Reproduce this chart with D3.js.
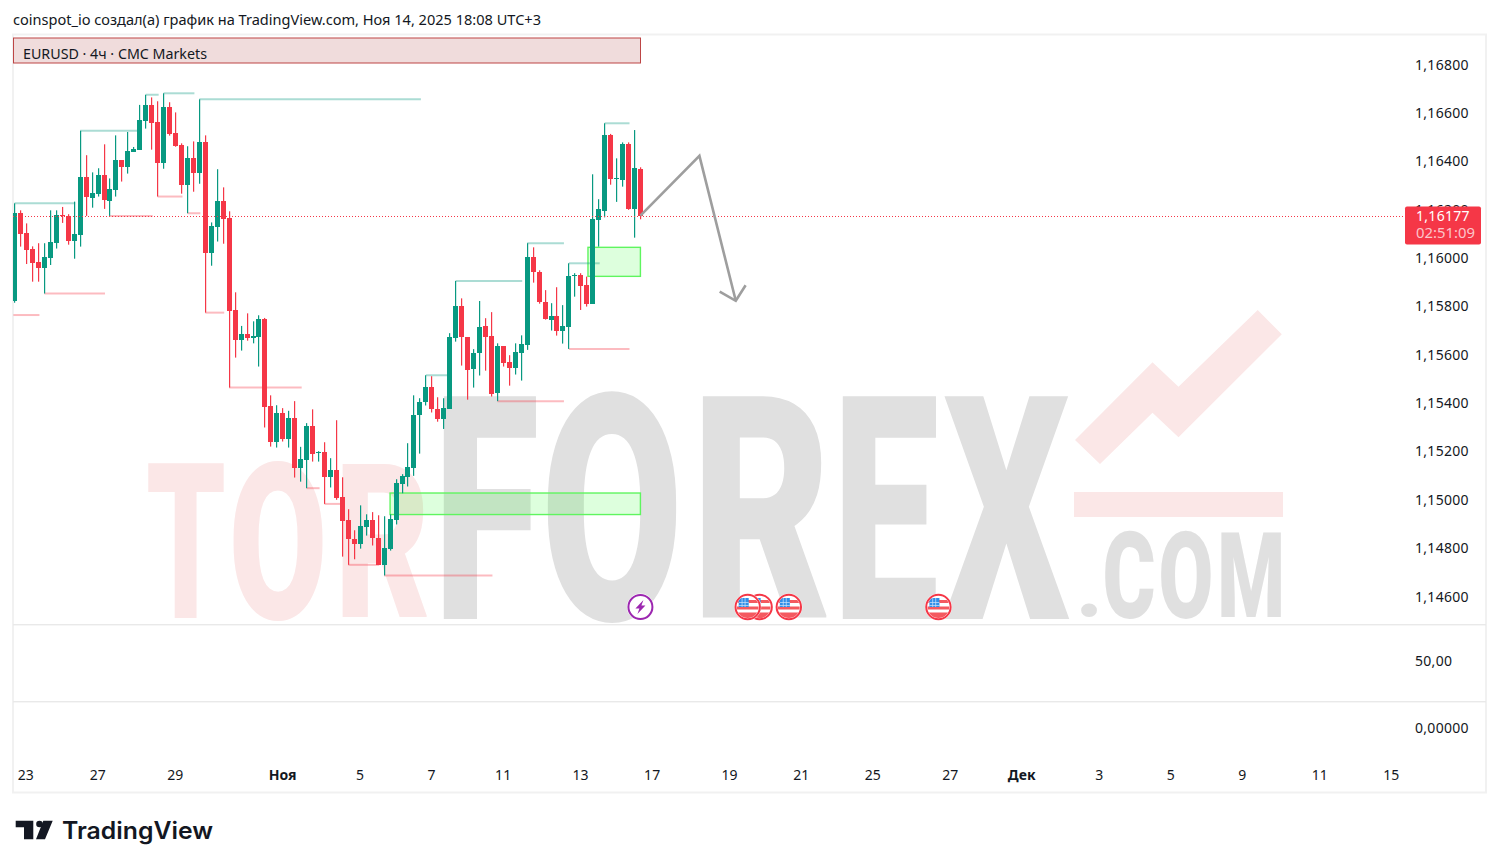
<!DOCTYPE html>
<html><head><meta charset="utf-8">
<style>html,body{margin:0;padding:0;background:#fff}svg{display:block}text{font-family:"Noto Sans",sans-serif}</style>
<script src="https://cdn.jsdelivr.net/npm/d3@7"></script></head>
<body><svg id="c" width="1499" height="868"></svg>
<script>
// All prices in points (1/100000)
const opens=[115826,116187,116104,116038,115985,115962,116003,116065,116180,116174,116074,116098,116336,116251,116268,116344,116239,116285,116406,116380,116442,116450,116570,116633,116563,116396,116625,116517,116468,116305,116414,116355,116480,116024,116132,116236,116166,115786,115664,115687,115673,115677,115749,115390,115239,115360,115255,115339,115135,115168,115306,115197,115199,115098,115124,115013,114917,114839,114821,114891,114917,114843,114734,114800,114920,115069,115098,115135,115352,115405,115467,115376,115338,115379,115673,115802,115674,115543,115607,115720,115678,115445,115637,115571,115545,115611,115644,116005,115943,115819,115747,115761,115702,115718,115929,115930,115889,115813,116161,116198,116509,116329,116326,116472,116205,116369];
const closes=[116187,116103,116036,115983,115962,116005,116067,116178,116174,116074,116100,116336,116253,116269,116344,116240,116286,116406,116378,116443,116451,116571,116633,116562,116396,116625,116516,116466,116305,116414,116355,116480,116024,116133,116236,116165,115784,115664,115687,115673,115680,115750,115387,115239,115360,115255,115339,115135,115170,115306,115193,115199,115098,115124,115011,114916,114838,114821,114893,114917,114842,114734,114802,114922,115070,115101,115137,115352,115405,115467,115376,115338,115381,115674,115802,115674,115540,115608,115716,115677,115441,115637,115569,115545,115612,115645,116005,115946,115818,115751,115761,115702,115720,115926,115932,115888,115813,116162,116203,116509,116330,116331,116472,116205,116373,116177];
const highs=[116228,116199,116145,116050,116063,116063,116199,116199,116213,116183,116235,116528,116427,116356,116373,116472,116331,116509,116406,116523,116461,116635,116677,116666,116650,116683,116646,116604,116476,116464,116484,116658,116509,116149,116369,116294,116195,115860,115721,115773,115740,115765,115754,115434,115393,115381,115370,115410,115221,115319,115376,115203,115240,115174,115331,115095,114963,114876,114979,114942,114951,114938,114934,114942,115087,115108,115236,115434,115422,115517,115513,115426,115422,115691,115907,115835,115674,115625,115824,115753,115778,115649,115637,115600,115649,115682,116063,116046,115951,115869,115815,115881,115807,115980,115939,115939,115925,116348,116245,116559,116515,116414,116480,116480,116531,116377];
const lows=[115817,116049,115977,115904,115904,115855,115973,116041,116147,116057,115999,116049,116176,116210,116256,116205,116176,116256,116318,116351,116442,116450,116537,116450,116256,116371,116508,116462,116268,116187,116276,116309,115776,115970,116070,116061,115466,115590,115619,115660,115649,115553,115301,115222,115218,115243,115218,115094,115077,115050,115160,115160,114985,115053,115002,114767,114733,114756,114800,114854,114813,114734,114689,114792,114900,115029,115057,115101,115193,115392,115363,115325,115295,115379,115656,115557,115416,115466,115516,115536,115429,115410,115553,115474,115520,115495,115622,115900,115813,115747,115702,115681,115648,115626,115842,115787,115801,115813,116049,116170,116305,116234,116297,116201,116086,116162];

const highLevelFrom=[0,11,22,25,31,69,74,86,93,99];
const highLevelTo=[10,21,24,30,68,73,85,92,98,103];
const highLevelPrice=[116228,116528,116677,116683,116658,115517,115907,116063,115980,116559];
const lowLevelFrom=[-0.2,5,16,24,29,32,36,49,52,56,62,81,93];
const lowLevelTo=[4,15,23,28,31,35,48,51,55,61,80,92,103];
const lowLevelPrice=[115766,115855,116176,116256,116187,115776,115466,115050,114985,114733,114689,115410,115626];

const zoneFrom=[63,96.2];
const zoneTo=[105,105];
const zoneTop=[115030,116046];
const zoneBottom=[114941,115926];

const arrowIndex=[105,114.9,121];
const arrowPrice=[116177,116424,115825];
const arrowHeadIndex=[118.3,121,122.65];
const arrowHeadPrice=[115863,115825,115889];

const lastPrice=116177;
const countdown="02:51:09";
const priceTicks=[114600,114800,115000,115200,115400,115600,115800,116000,116200,116400,116600,116800];
const lowerTicks=[0,50];
const timeTickIndex=[1.9,14,27,45,58,70,82,95,107,120,132,144,157,169,182,194,206,219,231];
const timeTickLabel=["23","27","29","Ноя","5","7","11","13","17","19","21","25","27","Дек","3","5","9","11","15"];
const flagEventIndex=[125,123,129.9,155];
const boltEventIndex=[105];
const flagRedBands=[[-7,3],[-0.5,3],[5.5,6]];
const flagCantonLines=[-6,-3];

const title="coinspot_io создал(а) график на TradingView.com, Ноя 14, 2025 18:08 UTC+3";
const legend="EURUSD · 4ч · CMC Markets";

const RED="#f53747",TEAL="#089981",TXT="#131722";
const svg=d3.select("#c");
const x=d3.scaleLinear().domain([0,231]).range([14.6,1391.4]);
const y=d3.scaleLinear().domain([114600,116800]).range([597,65]);
const yLow=d3.scaleLinear().domain([0,50]).range([728,661]);

// watermark (behind everything)
const wm=svg.append("g").attr("class","watermark");
const PINK="#fbe7e7",GREY="#e0e0e0";
const wmLetters=[["T",148,224,463,618,PINK],["O",233,323,460,621,PINK],["R",342,427,463,618,PINK],
 ["F",443,536,395,619,GREY],["O",547,677,390,623,GREY],["R",702,827,395,619,GREY],["E",842,936,395,619,GREY],["X",943,1070,395,619,GREY],
 [".",1081,1097,603,617,GREY],["C",1105,1154,530,619,GREY],["O",1161,1211,530,619,GREY],["M",1221,1281,532,617,GREY]];
const ctx=document.createElement("canvas").getContext("2d");
const wmFont='900 200px Roboto';
ctx.font=wmFont;
wmLetters.forEach(([ch,x0,x1,y0,y1,col])=>{
  const m=ctx.measureText(ch);
  const w=m.actualBoundingBoxLeft+m.actualBoundingBoxRight,h=m.actualBoundingBoxAscent+m.actualBoundingBoxDescent;
  const sx=(x1-x0)/w,sy=(y1-y0)/h;
  wm.append("text").text(ch).attr("fill",col).style("font",wmFont)
    .attr("transform",`translate(${x0+m.actualBoundingBoxLeft*sx},${y1-m.actualBoundingBoxDescent*sy}) scale(${sx},${sy})`);
});
wm.append("rect").attr("x",1074).attr("y",492).attr("width",209).attr("height",25).attr("fill",PINK);
wm.append("path").attr("fill",PINK).attr("d","M1257.7 310L1281.8 334.3L1178.5 437.3L1152.5 412.7L1100 464L1075 440L1152.5 362.3L1178.5 386.7Z");

// frame and separators
svg.append("rect").attr("x",13).attr("y",34.5).attr("width",1473).attr("height",758).attr("fill","none").attr("stroke","#f1f1f1").attr("stroke-width",2);
svg.selectAll(".sep").data([624,701]).join("rect").attr("x",13).attr("width",1473).attr("y",d=>d).attr("height",1.4).attr("fill","#e9e9e9");

// price zones
svg.selectAll(".zone").data(zoneFrom).join("rect").attr("class","zone")
  .attr("x",(d,i)=>x(d)).attr("width",(d,i)=>x(zoneTo[i])-x(d))
  .attr("y",(d,i)=>y(zoneTop[i])).attr("height",(d,i)=>y(zoneBottom[i])-y(zoneTop[i]))
  .attr("fill","#00ff00").attr("fill-opacity",.135).attr("stroke","#5ff55f").attr("stroke-width",1.4);

// pivot level lines
const clip=svg.append("clipPath").attr("id","pane").append("rect").attr("x",13).attr("y",35).attr("width",1473).attr("height",589);
const lines=svg.append("g").attr("clip-path","url(#pane)");
lines.selectAll(".hl").data(highLevelFrom).join("line").attr("class","hl")
  .attr("x1",d=>x(d)).attr("x2",(d,i)=>x(highLevelTo[i])+1)
  .attr("y1",(d,i)=>y(highLevelPrice[i])).attr("y2",(d,i)=>y(highLevelPrice[i]))
  .attr("stroke",TEAL).attr("stroke-opacity",.34).attr("stroke-width",2);
lines.selectAll(".ll").data(lowLevelFrom).join("line").attr("class","ll")
  .attr("x1",d=>x(d)).attr("x2",(d,i)=>x(lowLevelTo[i])+1)
  .attr("y1",(d,i)=>y(lowLevelPrice[i])).attr("y2",(d,i)=>y(lowLevelPrice[i]))
  .attr("stroke",RED).attr("stroke-opacity",.34).attr("stroke-width",2);

// last price line
svg.append("line").attr("x1",13).attr("x2",1405).attr("y1",Math.round(y(lastPrice))+.5).attr("y2",Math.round(y(lastPrice))+.5)
  .attr("stroke",RED).attr("stroke-dasharray","1 2");

// candles
const px=i=>Math.floor(x(i));
const cg=lines.append("g").selectAll("g").data(opens).join("g").attr("fill",(d,i)=>closes[i]>=d?TEAL:RED);
cg.append("rect").attr("x",(d,i)=>px(i)).attr("width",1.2)
  .attr("y",(d,i)=>y(highs[i])).attr("height",(d,i)=>y(lows[i])-y(highs[i]));
cg.append("rect").attr("x",(d,i)=>px(i)-2).attr("width",5)
  .attr("y",(d,i)=>Math.round(y(Math.max(d,closes[i]))))
  .attr("height",(d,i)=>Math.max(1,Math.round(y(Math.min(d,closes[i])))-Math.round(y(Math.max(d,closes[i])))));

// legend banner
svg.append("rect").attr("x",13.5).attr("y",38).attr("width",627).attr("height",25).attr("fill","#f0dcdc").attr("stroke","#bd4545").attr("stroke-width",1);
svg.append("text").attr("x",23).attr("y",59).attr("font-size",14).attr("fill",TXT).attr("textLength",184).attr("lengthAdjust","spacingAndGlyphs").text(legend);

// drawn arrow
const line=d3.line().x(d=>x(d[0])).y(d=>y(d[1]));
const arrowStroke=p=>svg.append("path").attr("d",line(p)).attr("fill","none").attr("stroke","#9e9e9e").attr("stroke-width",2.6);
arrowStroke(d3.zip(arrowIndex,arrowPrice));
arrowStroke(d3.zip(arrowHeadIndex,arrowHeadPrice));

// event icons
const eventY=607;
function flag(i,k){
  const g=svg.append("g").attr("transform",`translate(${x(i)},${eventY})`);
  const id="f"+k;
  g.append("clipPath").attr("id",id).append("circle").attr("r",11);
  g.append("circle").attr("r",13.5).attr("fill","#fff");
  const f=g.append("g").attr("clip-path",`url(#${id})`);
  flagRedBands.forEach(b=>f.append("rect").attr("x",-11).attr("y",b[0]).attr("width",22).attr("height",b[1]).attr("fill","#f4595f"));
  f.append("rect").attr("x",-9).attr("y",-9).attr("width",10).attr("height",9).attr("fill","#2f8fe8");
  flagCantonLines.forEach(v=>{
    f.append("rect").attr("x",v).attr("y",-9).attr("width",.7).attr("height",9).attr("fill","#cfe4fa");
    f.append("rect").attr("x",-9).attr("y",v+1).attr("width",10).attr("height",.7).attr("fill","#cfe4fa");
  });
  g.append("circle").attr("r",12.2).attr("fill","none").attr("stroke",RED).attr("stroke-width",2);
}
flagEventIndex.forEach((d,k)=>flag(d,k));
boltEventIndex.forEach(d=>{
  const g=svg.append("g").attr("transform",`translate(${x(d)},${eventY})`);
  g.append("circle").attr("r",13.5).attr("fill","#fff");
  g.append("circle").attr("r",12).attr("fill","#fff").attr("stroke","#9c27b0").attr("stroke-width",2);
  g.append("path").attr("fill","#9c27b0").attr("d","M3 -7L-5 1.5H-1L-3 7L5 -1.5H1Z");
});

// axes
const fmt=d=>(d/1e5).toFixed(5).replace(".",",");
const styleAxis=g=>{g.select(".domain").remove();g.selectAll("text").attr("font-size",14).attr("fill",TXT).style("font-family",'"Noto Sans",sans-serif');};
svg.append("g").attr("transform","translate(1415,-0.4)")
  .call(d3.axisRight(y).tickValues(priceTicks).tickSize(0).tickPadding(0).tickFormat(fmt)).call(styleAxis)
  .selectAll("text").style("letter-spacing","0.3px");
svg.append("g").attr("transform","translate(1415,0)")
  .call(d3.axisRight(yLow).tickValues(lowerTicks).tickSize(0).tickPadding(0).tickFormat(d=>d===0?"0,00000":"50,00")).call(styleAxis)
  .selectAll("text").style("letter-spacing","0.3px");
const tg=svg.append("g").attr("transform","translate(-0.7,770)")
  .call(d3.axisBottom(x).tickValues(timeTickIndex).tickSize(0).tickPadding(0).tickFormat((d,i)=>timeTickLabel[i])).call(styleAxis);
tg.selectAll("text").attr("font-weight",(d,i)=>/[А-я]/.test(timeTickLabel[i])?700:400);

// last price label
svg.append("rect").attr("x",1405).attr("y",206.5).attr("width",76).attr("height",38).attr("rx",2).attr("fill",RED);
svg.append("text").attr("x",1416).attr("y",y(lastPrice)+5).attr("font-size",14).attr("fill","#fff").style("letter-spacing","0.3px").text(fmt(lastPrice));
svg.append("text").attr("x",1416).attr("y",238).attr("font-size",14).attr("fill","#fff").attr("fill-opacity",.72).attr("textLength",59).attr("lengthAdjust","spacingAndGlyphs").text(countdown);

// header + footer
svg.append("text").attr("x",13).attr("y",25).attr("font-size",14).attr("fill",TXT).attr("textLength",528).attr("lengthAdjust","spacingAndGlyphs").text(title);
svg.append("path").attr("fill","#131722").attr("d","M15.7 820.7H33.3V839.3H24V827.3H15.7Z M43.3 820.7H52.7L45 839.3H36Z");
svg.append("circle").attr("cx",39.5).attr("cy",824).attr("r",3.3).attr("fill","#131722");
svg.append("text").attr("x",62).attr("y",838.5).attr("textLength",151).attr("lengthAdjust","spacingAndGlyphs").attr("font-size",24).attr("font-weight",600).attr("fill","#131722").style("font-family","Inter").text("TradingView");
</script></body></html>
